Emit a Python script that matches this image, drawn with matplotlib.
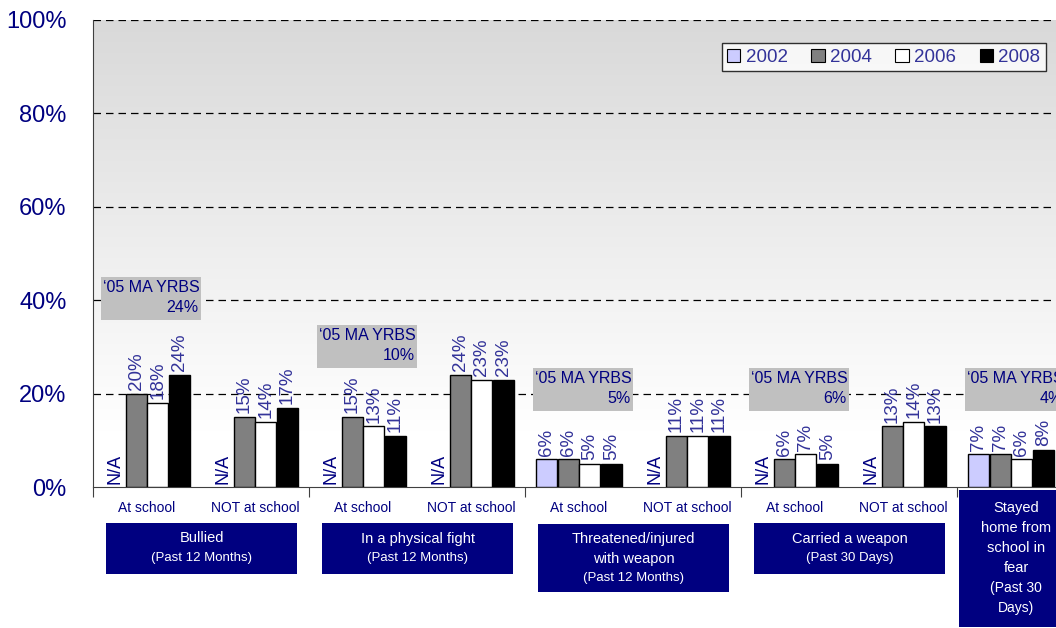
import matplotlib
matplotlib.use('Agg')
import matplotlib.pyplot as plt
import numpy as np
from matplotlib.patches import Rectangle
import matplotlib.transforms as mtrans
from matplotlib.colors import LinearSegmentedColormap

plt.rcParams['font.family'] = ['Liberation Sans', 'DejaVu Sans']

# ---- data ----
years = ['2002', '2004', '2006', '2008']
subcats = ['At school', 'NOT at school', 'At school', 'NOT at school',
           'At school', 'NOT at school', 'At school', 'NOT at school', '']
v2002 = [None, None, None, None, 6, None, None, None, 7]
v2004 = [20, 15, 15, 24, 6, 11, 6, 13, 7]
v2006 = [18, 14, 13, 23, 5, 11, 7, 14, 6]
v2008 = [24, 17, 11, 23, 5, 11, 5, 13, 8]
series = [v2002, v2004, v2006, v2008]
colors = ['#ccccff', '#808080', '#ffffff', '#000000']

groups = ['Bullied', 'In a physical fight', 'Threatened/injured\nwith weapon',
          'Carried a weapon', 'Stayed\nhome from\nschool in\nfear']
group_periods = ['(Past 12 Months)', '(Past 12 Months)', '(Past 12 Months)',
                 '(Past 30 Days)', '(Past 30\nDays)']
group_first = [0, 2, 4, 6, 8]
group_last = [1, 3, 5, 7, 8]

yrbs_vals = [24, 10, 5, 6, 4]
yrbs_cats = [0, 2, 4, 6, 8]

# ---- layout ----
W, H = 1056, 628
fig = plt.figure(figsize=(W / 100, H / 100), dpi=100)
ax_l, ax_r, ax_t, ax_b = 93, 1056, 20, 487
ax = fig.add_axes([ax_l / W, 1 - ax_b / H, (ax_r - ax_l) / W, (ax_b - ax_t) / H])

ncat = len(subcats)
cat_px = 108.0
xmax = -0.5 + (ax_r - ax_l) / cat_px
ax.set_xlim(-0.5, xmax)
ax.set_ylim(0, 100)

# gradient background
grad = np.linspace(0, 1, 256).reshape(-1, 1)
cmap = LinearSegmentedColormap.from_list('bg', [(0, '#ffffff'), (0.12, '#ffffff'), (1, '#d9d9d9')])
ax.imshow(grad, extent=[-0.5, xmax, 0, 100], origin='lower', aspect='auto',
          cmap=cmap, zorder=0)

# grid
for yv in [20, 40, 60, 80, 100]:
    ax.axhline(yv, color='#000000', lw=0.9, ls=(0, (6, 4)), zorder=1)

navy = '#000080'
lblc = '#333399'

bw = 0.195
offsets = [-0.3, -0.1, 0.1, 0.3]
x = np.arange(ncat)
for s, vals in enumerate(series):
    for i, v in enumerate(vals):
        xp = x[i] + offsets[s]
        if v is None:
            ax.annotate('N/A', (xp, 0), xytext=(0, 2), textcoords='offset points',
                        rotation=90, ha='center', va='bottom', fontsize=13,
                        color=navy, zorder=5)
        else:
            ax.bar(xp, v, width=bw, color=colors[s], edgecolor='#000000',
                   linewidth=1.0, zorder=3)
            ax.annotate(f'{v}%', (xp, v), xytext=(0, 2.5), textcoords='offset points',
                        rotation=90, ha='center', va='bottom', fontsize=13.5,
                        color=lblc, zorder=5)

# YRBS boxes
yrbs_top = [45, 34.7, 25.5, 25.5, 25.5]
for c, val, top in zip(yrbs_cats, yrbs_vals, yrbs_top):
    x0 = c - 0.43
    wdt = 0.93
    ax.add_patch(Rectangle((x0, top - 9.2), wdt, 9.2, facecolor='#c0c0c0',
                           edgecolor='none', zorder=4, clip_on=False))
    ax.text(x0 + 0.02, top - 0.6, '\u201805 MA YRBS', ha='left', va='top',
            fontsize=11.5, color=navy, zorder=6)
    ax.text(x0 + wdt - 0.02, top - 4.9, f'{val}%', ha='right', va='top',
            fontsize=11.5, color=navy, zorder=6)

# axes styling
ax.spines['right'].set_visible(False)
ax.spines['top'].set_visible(False)
ax.spines['left'].set_color('#404040')
ax.spines['bottom'].set_color('#404040')
ax.spines['left'].set_zorder(6)
ax.set_yticks([0, 20, 40, 60, 80, 100])
ax.set_yticklabels([f'{t}%' for t in [0, 20, 40, 60, 80, 100]],
                   fontsize=17, color=navy)
ax.tick_params(axis='y', length=0, pad=19)
ax.set_xticks([-0.5, 1.5, 3.5, 5.5, 7.5])
ax.set_xticklabels([])
ax.tick_params(axis='x', length=7, direction='out', color='#404040')

# sub-category labels
btrans = mtrans.blended_transform_factory(ax.transData, ax.transAxes)
def ay(py):
    return (ax_b - py) / (ax_b - ax_t)

for i, lab in enumerate(subcats):
    if lab:
        ax.text(i, ay(508), lab, transform=btrans, ha='center', va='center',
                fontsize=10, color=navy)

# group boxes
box_y = [(523, 574), (523, 574), (524, 592), (523, 574), (490, 627)]
for g, (nm, per, f, l, (yt, yb)) in enumerate(zip(groups, group_periods, group_first, group_last, box_y)):
    if f == l:
        x0, x1 = f - 0.48, f + 0.52
    else:
        x0, x1 = f - 0.38, l + 0.39
    ax.add_patch(Rectangle((x0, ay(yb)), x1 - x0, ay(yt) - ay(yb), transform=btrans,
                           facecolor=navy, edgecolor='none', clip_on=False, zorder=5))
    xc = (x0 + x1) / 2
    if f == l:
        xc = f + 0.05
    nlines = nm.count('\n') + 1
    lh = 20 if f == l else 19
    ytop = yt + (8 if f == l else 6)
    for k, line in enumerate(nm.split('\n')):
        ax.text(xc, ay(ytop + lh * k + lh / 2), line, transform=btrans,
                ha='center', va='center', fontsize=10.5, color='white', zorder=6)
    for k, line in enumerate(per.split('\n')):
        ax.text(xc, ay(ytop + lh * (nlines + k) + lh / 2), line, transform=btrans,
                ha='center', va='center', fontsize=9.5 if f != l else 10, color='white', zorder=6)

# legend
handles = [Rectangle((0, 0), 1, 1, facecolor=c, edgecolor='#000000', lw=0.8) for c in colors]
leg = ax.legend(handles, years, ncol=4, loc='upper right',
                bbox_to_anchor=((1046 - ax_l) / (ax_r - ax_l), ay(43)),
                frameon=True, fancybox=False, fontsize=13.5, handlelength=0.7,
                handleheight=0.7, handletextpad=0.3, columnspacing=1.25,
                borderpad=0.3, borderaxespad=0)
leg.get_frame().set_edgecolor('#000000')
leg.get_frame().set_linewidth(1.0)
for t in leg.get_texts():
    t.set_color(lblc)
leg.set_zorder(10)

fig.savefig('out.png', dpi=100)
